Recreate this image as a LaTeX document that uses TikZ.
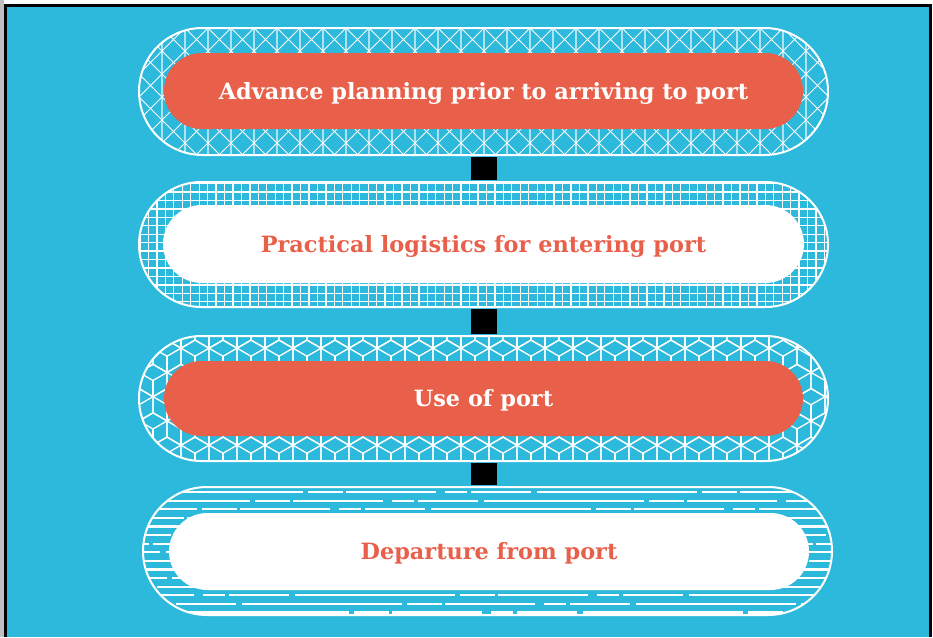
\documentclass[tikz,border=0pt]{standalone}
\usepackage{fontspec}
\newfontfamily\slab{DejaVu Serif}
\usetikzlibrary{shapes.misc}
\definecolor{bgblue}{HTML}{2DB9DC}
\definecolor{pillred}{HTML}{E9604A}
\begin{document}
\begin{tikzpicture}[x=1pt,y=-1pt,
  outerpill/.style={rounded rectangle, draw=white, line width=2pt, minimum width=689pt, inner sep=0pt},
  innerpill/.style={rounded rectangle, inner sep=0pt, minimum height=76pt, text height=16pt, text depth=0pt,
     font=\slab\bfseries\fontsize{22.4}{26}\selectfont},
  redpill/.style={innerpill, fill=pillred, text=white},
  whitepill/.style={innerpill, fill=white, text=pillred},
  connector/.style={draw=black, line width=26pt, shorten <=1pt, shorten >=1pt},
  hatch/.style={draw=white, line width=1.3pt}
]
\useasboundingbox (0,0) rectangle (933,637);
\fill[white] (0,0) rectangle (933,637);
\fill[black!25] (0,0) rectangle (4,637);
\fill[bgblue] (5.5,5.5) rectangle (930.5,637);
\draw[black, line width=2.5pt] (5.5,637) -- (5.5,5.5) -- (930.5,5.5) -- (930.5,637);

% ---------- pill 1 : triangle lattice ----------
\begin{scope}
  \clip[rounded corners=63.5pt] (139,28) rectangle (828,155);
  \foreach \i in {0,...,31}
    \draw[white, opacity=0.6, line width=1.3pt] ({139+23*\i},28) -- ++(0,127);
  \foreach \i in {-6,...,36} {
    \draw[hatch, line width=1pt] ({139+23*\i},28) -- ++(127,127);
    \draw[hatch, line width=1pt] ({139+23*\i},28) -- ++(-127,127);
  }
\end{scope}
\node[outerpill, minimum height=127pt] (o1) at (483.5,91.5) {};
\node[redpill, minimum width=639pt] (i1) at (483.5,91) {Advance planning prior to arriving to port};

% ---------- pill 2 : square grid ----------
\begin{scope}
  \clip[rounded corners=62.5pt] (139,182) rectangle (828,307);
  \foreach \i in {0,...,82}
    \draw[hatch] ({140+8.45*\i},182) -- ++(0,125);
  \foreach \j in {0,...,15}
    \draw[hatch] (139,{183.5+8.45*\j}) -- ++(689,0);
\end{scope}
\node[outerpill, minimum height=125pt] (o2) at (483.5,244.5) {};
\node[whitepill, minimum width=641pt, minimum height=78pt] (i2) at (483.5,244) {Practical logistics for entering port};

% ---------- pill 3 : cubes ----------
\begin{scope}
  \clip[rounded corners=62.5pt] (139,336) rectangle (828,461);
  \foreach \j in {0,...,6} {
    \pgfmathsetmacro{\off}{mod(\j,2)*14}
    \foreach \i in {0,...,26} {
      \pgfmathsetmacro{\cx}{125+28*\i+\off}
      \pgfmathsetmacro{\cy}{332+24.25*\j}
      \draw[hatch, line join=round] (\cx,{\cy-16.17}) -- ({\cx+14},{\cy-8.08}) -- ({\cx+14},{\cy+8.08})
         -- (\cx,{\cy+16.17}) -- ({\cx-14},{\cy+8.08}) -- ({\cx-14},{\cy-8.08}) -- cycle;
      \draw[hatch] (\cx,\cy) -- (\cx,{\cy+16.17});
      \draw[hatch] (\cx,\cy) -- ({\cx+14},{\cy-8.08});
      \draw[hatch] (\cx,\cy) -- ({\cx-14},{\cy-8.08});
    }
  }
\end{scope}
\node[outerpill, minimum height=125pt] (o3) at (483.5,398.5) {};
\node[redpill, minimum width=639pt, minimum height=75pt] (i3) at (483.5,398.5) {Use of port};

% ---------- pill 4 : rough horizontal lines ----------
\begin{scope}
  \clip[rounded corners=64pt] (143,487) rectangle (832,615);
  \foreach \k in {0,...,14} {
    \draw[white, line width=2.2pt,
      dash pattern=on 160pt off 5pt on 35pt off 3pt on 90pt off 9pt on 22pt off 4pt on 60pt off 6pt,
      dash phase={\k*53}] (143,{492+8.6*\k}) -- ++(689,0);
  }
\end{scope}
\node[outerpill, minimum height=128pt] (o4) at (487.5,551) {};
\node[whitepill, minimum width=640pt, minimum height=77pt] (i4) at (489,551.5) {Departure from port};

% ---------- connectors ----------
\draw[connector] (o1.south) -- (o1.south |- o2.north);
\draw[connector] (o2.south) -- (o2.south |- o3.north);
\draw[connector] (o3.south) -- (o3.south |- o4.north);
\end{tikzpicture}
\end{document}
